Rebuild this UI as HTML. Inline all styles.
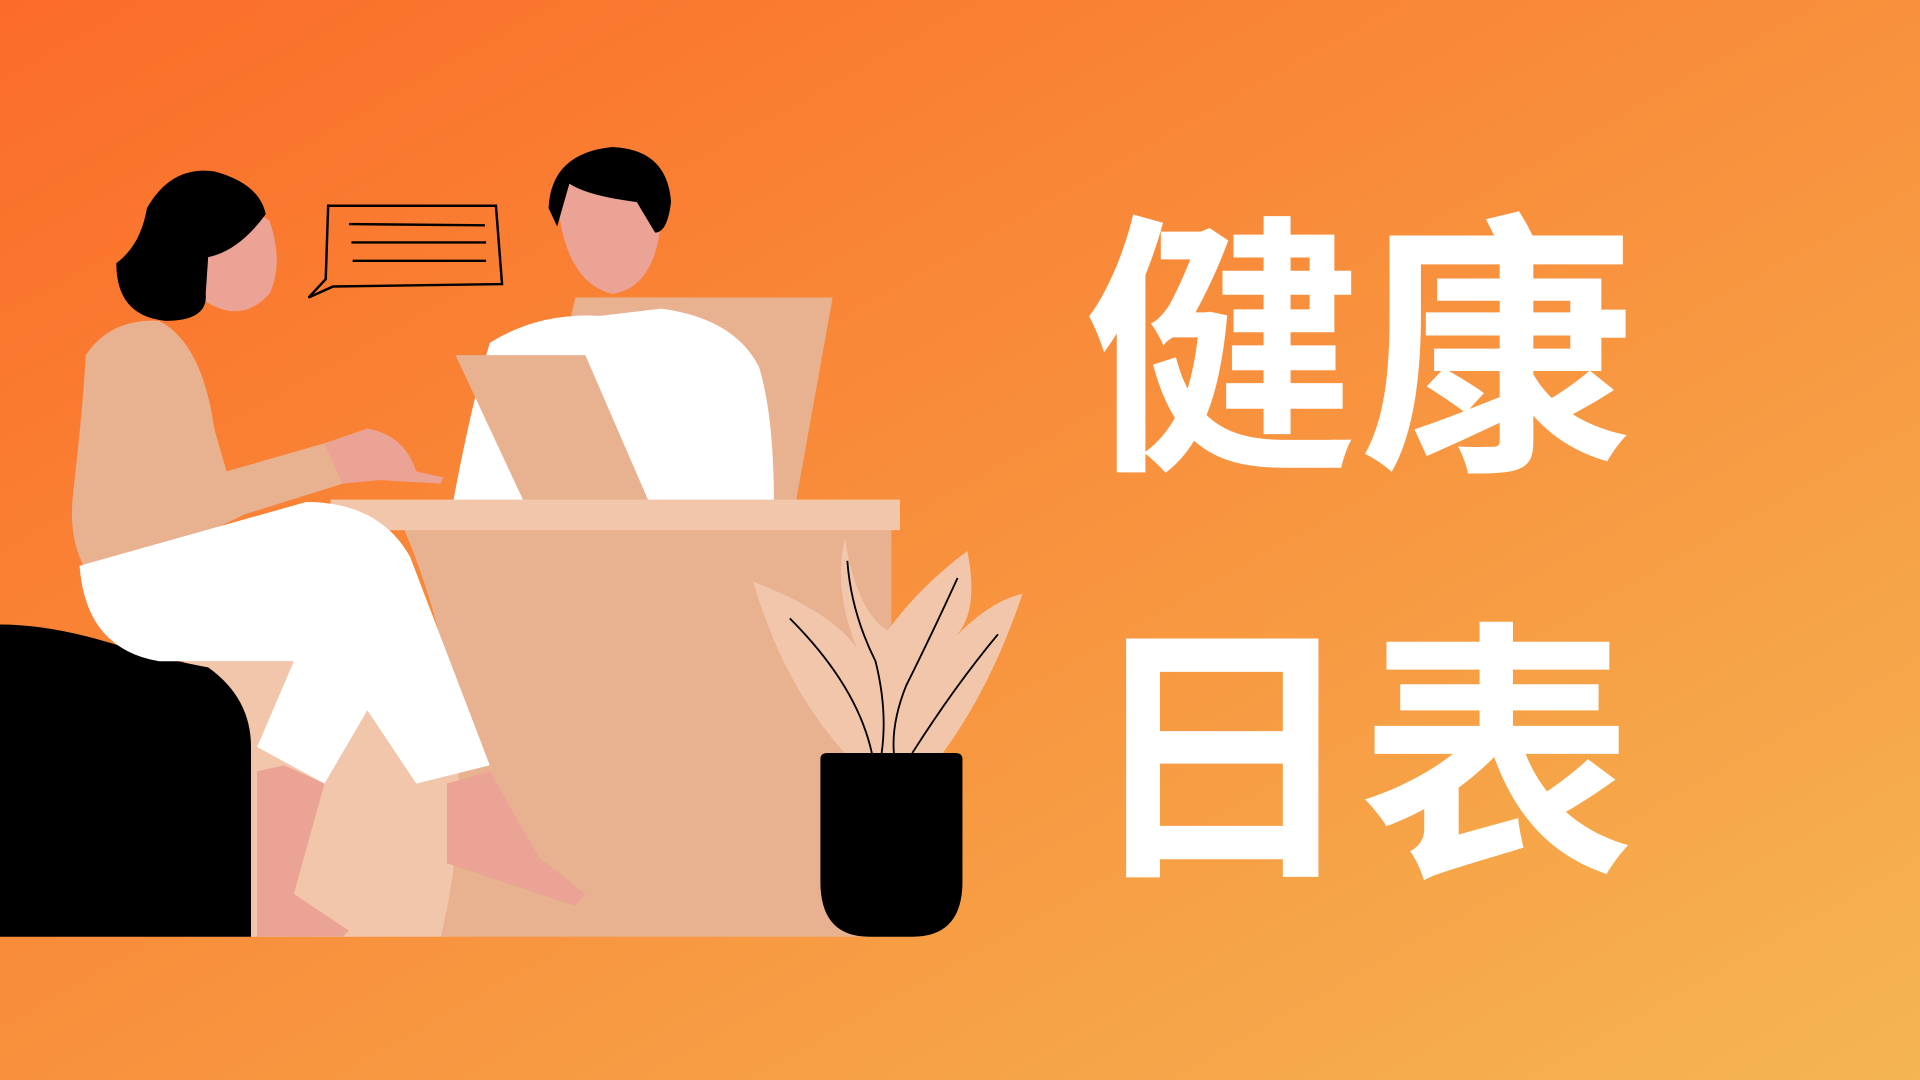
<!DOCTYPE html>
<html><head><meta charset="utf-8"><style>
html,body{margin:0;padding:0;width:1920px;height:1080px;overflow:hidden}
svg{display:block}
</style></head><body>
<svg width="1920" height="1080" viewBox="0 0 1568 882" xmlns="http://www.w3.org/2000/svg">
<defs><linearGradient id="bg" x1="0" y1="0" x2="1" y2="1"><stop offset="0" stop-color="#fb6c28"/><stop offset="1" stop-color="#f5b552"/></linearGradient></defs>
<rect width="1568" height="882" fill="url(#bg)"/>
<g>
<polygon points="150,540 330,540 560,700 360,765 205,765 150,765" fill="#f2c6aa"/>
<polygon points="470,243 680,243 650,410 430,410" fill="#e8b190"/>
<path d="M400,280 Q440,255 490,258 L540,252 Q600,260 620,300 Q632,340 632,410 L370,410 Q385,330 400,280Z" fill="#fff"/>
<path d="M455,160 Q460,230 500,240 Q535,235 540,180 Q525,140 490,140 Q460,145 455,160Z" fill="#eba396"/>
<path d="M448,170 Q450,125 500,120 Q545,122 548,165 Q545,190 535,190 L520,165 Q480,160 465,150 L455,185Z" fill="#000"/>
<polygon points="372,290 478,290 530,410 428,410" fill="#e8b190"/>
<path d="M330,432 L728,432 L728,765 L360,765 Q400,600 330,432Z" fill="#e8b190"/>
<rect x="270" y="408" width="465" height="25" fill="#f2c6aa"/>
<path d="M0,510 Q40,510 90,525 Q140,540 170,545 Q205,570 205,610 L205,765 L0,765Z" fill="#000"/>
<path d="M70,290 Q90,260 130,262 Q165,280 175,350 L185,385 L265,362 L280,395 L200,420 Q140,450 70,465 Q55,440 60,400 Q68,330 70,290Z" fill="#e8b190"/>
<path d="M65,462 L250,410 Q310,410 335,455 L400,625 L340,640 L300,580 L265,640 L210,610 L240,540 L130,540 Q70,530 65,462Z" fill="#fff"/>
<path d="M150,180 Q190,160 220,180 Q232,215 220,240 Q200,262 175,250 Q150,240 150,180Z" fill="#eba396"/>
<path d="M95,215 Q115,200 120,170 Q140,135 175,140 Q212,150 217,175 Q195,205 170,210 L168,240 Q170,262 135,262 Q95,258 95,215Z" fill="#000"/>
<path d="M265,362 L300,350 Q330,355 340,385 L362,390 L360,395 L310,392 L280,395Z" fill="#eba396"/>
<path d="M210,630 L232,625 L265,640 L240,730 L285,760 L280,765 L210,765Z M365,640 L400,630 L440,700 L478,730 L470,740 L365,705Z" fill="#eba396"/>
<path d="M268,168 L405,168 L410,232 L272,234 L252,243 L266,228Z" fill="none" stroke="#000" stroke-width="2"/>
<path d="M285,183 L396,184 M287,198 L397,198 M288,213 L397,213" stroke="#000" stroke-width="2"/>
<path d="M690,440 Q700,500 725,515 Q750,480 790,450 Q800,500 780,520 Q810,490 835,485 Q810,560 770,615 L690,615 Q640,560 615,475 Q680,500 700,530 Q680,480 690,440Z" fill="#f2c6aa"/>
<path d="M645,505 Q700,560 712,615 M692,458 Q695,500 715,540 Q725,580 720,615 M782,472 Q760,520 740,560 Q728,590 730,615 M815,518 Q780,560 745,615" fill="none" stroke="#000" stroke-width="1.5"/>
<path d="M670,620 Q670,615 676,615 L780,615 Q786,615 786,620 L786,720 Q786,765 745,765 L710,765 Q670,765 670,720Z" fill="#000"/>
</g>
<g font-family="'Liberation Sans','Noto Sans CJK SC',sans-serif" font-weight="bold" font-size="225" fill="#fff">
<text x="885" y="366">健康</text>
<text x="885" y="699">日表</text>
</g>
</svg>
</body></html>
